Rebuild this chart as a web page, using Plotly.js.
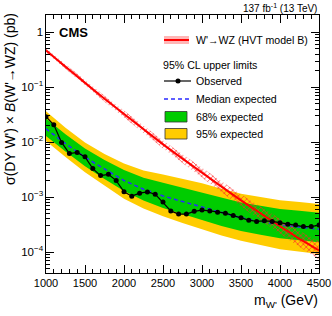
<!DOCTYPE html>
<html>
<head>
<meta charset="utf-8">
<script src="https://cdn.plot.ly/plotly-3.0.1.min.js"></script>
<style>html,body{margin:0;padding:0;background:#fff;}#chart{width:332px;height:316px;}</style>
</head>
<body>
<div id="chart"></div>
<script>
// ---- data ----
const massObs = [1000,1100,1200,1300,1400,1500,1600,1700,1800,1900,2000,2100,2200,2300,2400,2500,2600,2700,2800,2900,3000,3100,3200,3300,3400,3500,3600,3700,3800,3900,4000,4100,4200,4300,4400,4500];
const observed = [0.029,0.0207,0.0099,0.0062,0.0065,0.0054,0.0033,0.00246,0.0026,0.0020,0.00125,0.00104,0.00118,0.00124,0.00113,0.00081,0.00056,0.00049,0.00049,0.00055,0.00058,0.00056,0.00053,0.00051,0.00046,0.00042,0.00038,0.00036,0.00037,0.00036,0.00034,0.00032,0.00031,0.00029,0.00029,0.00031];

const massExp = [1000,1250,1500,1750,2000,2250,2500,2750,3000,3250,3500,3750,4000,4250,4500];
const expMedian = [0.0175,0.0094,0.0053,0.0032,0.0020,0.00139,0.00105,0.00083,0.00066,0.00052,0.00042,0.00036,0.00031,0.000285,0.00026];
const exp68Up   = [0.0271,0.0139,0.00766,0.00473,0.0031,0.00225,0.00182,0.00149,0.00123,0.00098,0.0008,0.000693,0.000604,0.000562,0.000519];
const exp68Down = [0.0130,0.00673,0.00366,0.00214,0.00129,0.000867,0.000632,0.000489,0.00038,0.000299,0.000242,0.000207,0.000178,0.000164,0.00015];
const exp95Up   = [0.0366,0.01832,0.00986,0.0061,0.00408,0.00304,0.00258,0.00213,0.00178,0.00142,0.001156,0.001,0.000873,0.000813,0.00075];
const exp95Down = [0.01054,0.00535,0.00284,0.0016,0.000935,0.000621,0.000448,0.000338,0.000257,0.0002,0.00016,0.000134,0.000112,0.000102,0.0000923];

const massTh = [1000,1250,1500,1750,2000,2250,2500,2750,3000,3250,3500,3750,4000,4250,4500];
const theory     = [0.468,0.234,0.120,0.0617,0.0324,0.0170,0.00912,0.00501,0.00275,0.00155,0.000871,0.000501,0.000295,0.000174,0.000107];
const theoryUp   = [0.513,0.260,0.135,0.070,0.0372,0.0197,0.0107,0.00603,0.00339,0.00195,0.00112,0.000661,0.000403,0.000245,0.000157];
const theoryDown = [0.427,0.211,0.107,0.0543,0.0282,0.0146,0.00776,0.00417,0.00224,0.00123,0.000676,0.00038,0.000216,0.000123,0.0000733];

const xTickVals = [1000,1500,2000,2500,3000,3500,4000,4500];

// ---- layout helpers (pixel -> paper) ----
const W = 332, H = 316, ML = 46, MR = 13, MT = 15, MB = 43;
const PW = W - ML - MR, PH = H - MT - MB;
const px = v => (v - ML) / PW;
const py = v => (H - MB - v) / PH;

function band(xs, up, down) {
  return { x: xs.concat(xs.slice().reverse()), y: up.concat(down.slice().reverse()) };
}
const b95 = band(massExp, exp95Up, exp95Down);
const b68 = band(massExp, exp68Up, exp68Down);
const bTh = band(massTh, theoryUp, theoryDown);

const YELLOW = '#ffcc00', GREEN = '#00cc00';

const traces = [
  { x: b95.x, y: b95.y, type: 'scatter', mode: 'lines', fill: 'toself', fillcolor: YELLOW, line: {width: 0}, hoverinfo: 'skip', showlegend: false },
  { x: b68.x, y: b68.y, type: 'scatter', mode: 'lines', fill: 'toself', fillcolor: GREEN, line: {width: 0}, hoverinfo: 'skip', showlegend: false },
  { x: massExp, y: expMedian, type: 'scatter', mode: 'lines', line: {color: '#2a2aff', width: 1.5, dash: '4px,3px'}, showlegend: false },
  { x: bTh.x, y: bTh.y, type: 'scatter', mode: 'lines', fill: 'toself', fillcolor: 'rgba(255,255,255,0)',
    fillpattern: {shape: 'x', fgcolor: 'rgba(255,40,40,0.85)', bgcolor: 'rgba(255,255,255,0)', size: 4, solidity: 0.35},
    line: {width: 0}, hoverinfo: 'skip', showlegend: false },
  { x: massTh, y: theory, type: 'scatter', mode: 'lines', line: {color: '#ff0000', width: 2}, showlegend: false },
  { x: massObs, y: observed, type: 'scatter', mode: 'lines+markers', line: {color: '#000', width: 1.2},
    marker: {color: '#000', size: 5, symbol: 'circle'}, showlegend: false }
];

const FONT = 'Liberation Sans, Arial, Helvetica, sans-serif';
const legX0 = 164, legX1 = 189, legTx = 195;

const shapes = [
  // model key
  { type: 'rect', xref: 'paper', yref: 'paper', x0: px(legX0), x1: px(legX1), y0: py(44), y1: py(36), fillcolor: 'rgba(255,110,110,0.5)', line: {width: 0} },
  { type: 'line', xref: 'paper', yref: 'paper', x0: px(legX0), x1: px(legX1), y0: py(40), y1: py(40), line: {color: '#ff0000', width: 2} },
  // observed key
  { type: 'line', xref: 'paper', yref: 'paper', x0: px(legX0), x1: px(191), y0: py(81), y1: py(81), line: {color: '#000', width: 1.2} },
  { type: 'circle', xref: 'paper', yref: 'paper', x0: px(175.5), x1: px(180.5), y0: py(83.5), y1: py(78.5), fillcolor: '#000', line: {width: 0} },
  // median key
  { type: 'line', xref: 'paper', yref: 'paper', x0: px(legX0), x1: px(190), y0: py(99), y1: py(99), line: {color: '#2a2aff', width: 1.5, dash: '4px,3px'} },
  // 68% key
  { type: 'rect', xref: 'paper', yref: 'paper', x0: px(165), x1: px(187), y0: py(122), y1: py(111.5), fillcolor: GREEN, line: {color: '#333', width: 0.8} },
  // 95% key
  { type: 'rect', xref: 'paper', yref: 'paper', x0: px(165), x1: px(187), y0: py(139), y1: py(128.5), fillcolor: YELLOW, line: {color: '#333', width: 0.8} }
];

function note(text, x, y, size, anchor, extra) {
  return Object.assign({ text: text, xref: 'paper', yref: 'paper', x: px(x), y: py(y), xanchor: anchor || 'left', yanchor: 'middle',
    showarrow: false, font: {family: FONT, size: size, color: '#000'}, borderpad: 0 }, extra || {});
}

const annotations = [
  note("W'→WZ (HVT model B)", legTx, 40, 10.6),
  note('95% CL upper limits', 162, 65, 10.6),
  note('Observed', legTx, 81, 10.6),
  note('Median expected', legTx, 99, 10.6),
  note('68% expected', legTx, 116.7, 10.6),
  note('95% expected', legTx, 133.5, 10.6),
  note('<b>CMS</b>', 58, 32, 13),
  note('137 fb<sup>-1</sup> (13 TeV)', 318, 8, 10, 'right'),
  note("m<sub>W'</sub> (GeV)", 319, 301, 14, 'right'),
  note("σ(DY W') × <i>B</i>(W'→WZ) (pb)", 10, 12, 14, 'center', {textangle: -90, yanchor: 'top'})
];

const layout = {
  width: W, height: H,
  margin: {l: ML, r: MR, t: MT, b: MB, pad: 0},
  paper_bgcolor: '#fff', plot_bgcolor: '#fff',
  font: {family: FONT, size: 11, color: '#000'},
  showlegend: false,
  xaxis: {
    range: [1000, 4500], tickvals: xTickVals, ticktext: xTickVals.map(String),
    ticks: 'inside', ticklen: 8, tickwidth: 1, tickcolor: '#000',
    showline: true, linecolor: '#000', linewidth: 1, mirror: 'allticks',
    showgrid: false, zeroline: false, tickfont: {size: 11},
    minor: {dtick: 100, tick0: 1000, ticks: 'inside', ticklen: 4, tickcolor: '#000', showgrid: false}
  },
  yaxis: {
    type: 'log', range: [-4.382, 0.315], dtick: 1, exponentformat: 'power',
    ticks: 'inside', ticklen: 8, tickwidth: 1, tickcolor: '#000',
    showline: true, linecolor: '#000', linewidth: 1, mirror: 'allticks',
    showgrid: false, zeroline: false, tickfont: {size: 9.2},
    minor: {dtick: 'D1', ticks: 'inside', ticklen: 4, tickcolor: '#000', showgrid: false}
  },
  shapes: shapes,
  annotations: annotations
};

Plotly.newPlot('chart', traces, layout, {displayModeBar: false, staticPlot: true});
</script>
</body>
</html>
